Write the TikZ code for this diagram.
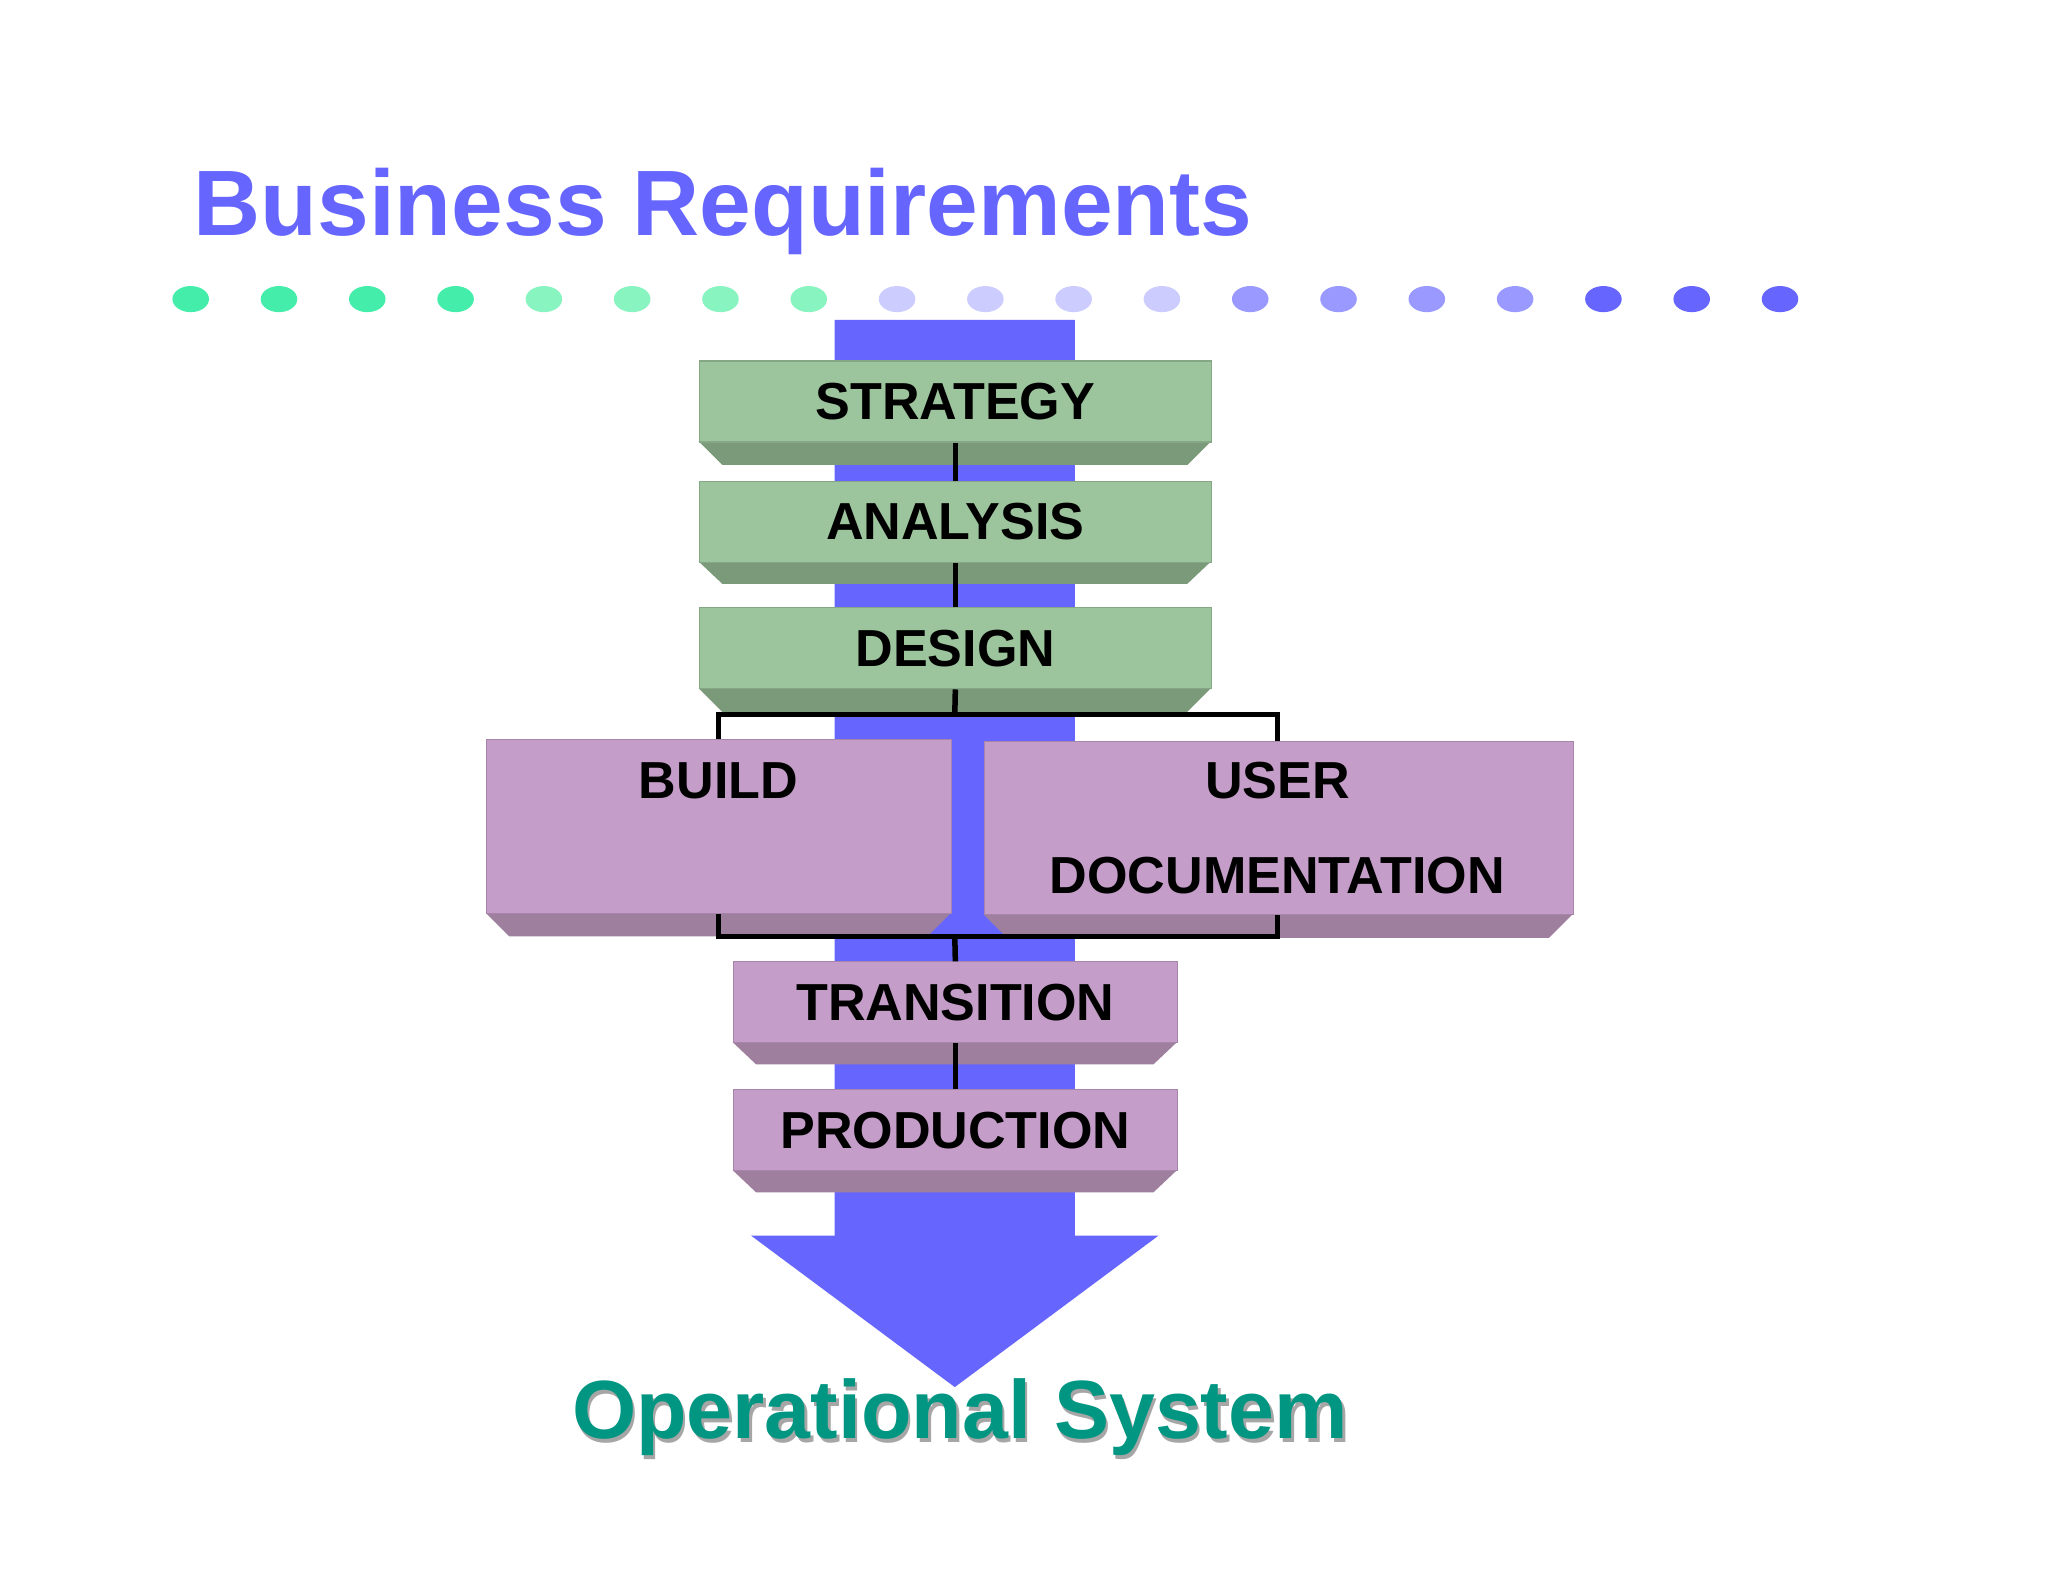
\documentclass[tikz,border=0pt]{standalone}
\usepackage{fontspec}
\setmainfont{Liberation Sans}
\definecolor{tblue}{RGB}{102,102,255}
\definecolor{dA}{RGB}{68,238,170}
\definecolor{dB}{RGB}{136,245,192}
\definecolor{dC}{RGB}{204,204,255}
\definecolor{dD}{RGB}{153,153,255}
\definecolor{gface}{RGB}{157,197,157}
\definecolor{gbev}{RGB}{122,154,122}
\definecolor{pface}{RGB}{196,157,200}
\definecolor{pbev}{RGB}{158,127,158}
\definecolor{teal}{RGB}{0,150,130}
\begin{document}
\begin{tikzpicture}[x=0.02cm,y=-0.02cm,
  lab/.style={font=\bfseries\fontsize{22.7}{27}\selectfont,text=black},
  conn/.style={draw=black,line width=2.4pt}]
\useasboundingbox (0,0) rectangle (1568,1212);
\fill[white] (0,0) rectangle (1568,1212);
\node[anchor=base west,text=tblue,font=\bfseries\fontsize{40.5}{46}\selectfont] (title) at (142,180) {Business Requirements};
% dots
\foreach \i in {0,...,18}{
  \pgfmathtruncatemacro{\g}{int(\i/4)}
  \ifcase\g \def\c{dA}\or \def\c{dB}\or \def\c{dC}\or \def\c{dD}\else \def\c{tblue}\fi
  \fill[\c] ({146+\i*67.6},229) ellipse [x radius=14, y radius=10];
}
% arrow
\fill[tblue] (639,245) -- (823,245) -- (823,946) -- (887,946) -- (731,1062) -- (575,946) -- (639,946) -- cycle;
% box macro
\newcommand{\bbox}[7]{% name,x1,y1,x2,y2,yb,colset
  \fill[#7bev] (#2,#5) -- (#4,#5) -- (#4-18,#6) -- (#2+18,#6) -- cycle;
  \node[fill=#7face,draw=#7face!85!black,line width=0.5pt,inner sep=0,minimum width={(#4-#2)*0.02cm},minimum height={(#5-#3)*0.02cm},anchor=north west] (#1) at (#2,#3) {};}
\bbox{str}{535}{276}{927}{338}{356}{g}
\bbox{ana}{535}{368}{927}{430}{447}{g}
\bbox{des}{535}{465}{927}{527}{545}{g}
\bbox{bld}{372}{566}{728}{699}{717}{p}
\bbox{usr}{753}{567}{1204}{700}{718}{p}
\bbox{trn}{561}{736}{901}{798}{815}{p}
\bbox{prd}{561}{834}{901}{896}{913}{p}
\node[lab] at (str) {STRATEGY};
\node[lab] at (ana) {ANALYSIS};
\node[lab] at (des) {DESIGN};
\node[lab] at (550,598) {BUILD};
\node[lab] at (978,598) {USER};
\node[lab] at (978,670) {DOCUMENTATION};
\node[lab] at (trn) {TRANSITION};
\node[lab] at (prd) {PRODUCTION};
% connectors
\draw[conn] (str.south) -- (ana.north);
\draw[conn] (ana.south) -- (des.north);
\coordinate (jt) at (731,547);
\coordinate (jb) at (731,717);
\draw[conn] (des.south) -- (jt);
\draw[conn] (bld.north -| 550,0) -- (550,547) -- (978,547) -- (usr.north -| 978,0);
\draw[conn] (bld.south -| 550,0) -- (550,717) -- (978,717) -- (usr.south -| 978,0);
\draw[conn] (jb) -- (trn.north);
\draw[conn] (trn.south) -- (prd.north);
\node[text=gray!70,font=\bfseries\fontsize{36}{42}\selectfont] at (737,1088) {Operational System};
\node[text=teal,font=\bfseries\fontsize{36}{42}\selectfont] (os) at (735,1085) {Operational System};
\end{tikzpicture}
\end{document}
